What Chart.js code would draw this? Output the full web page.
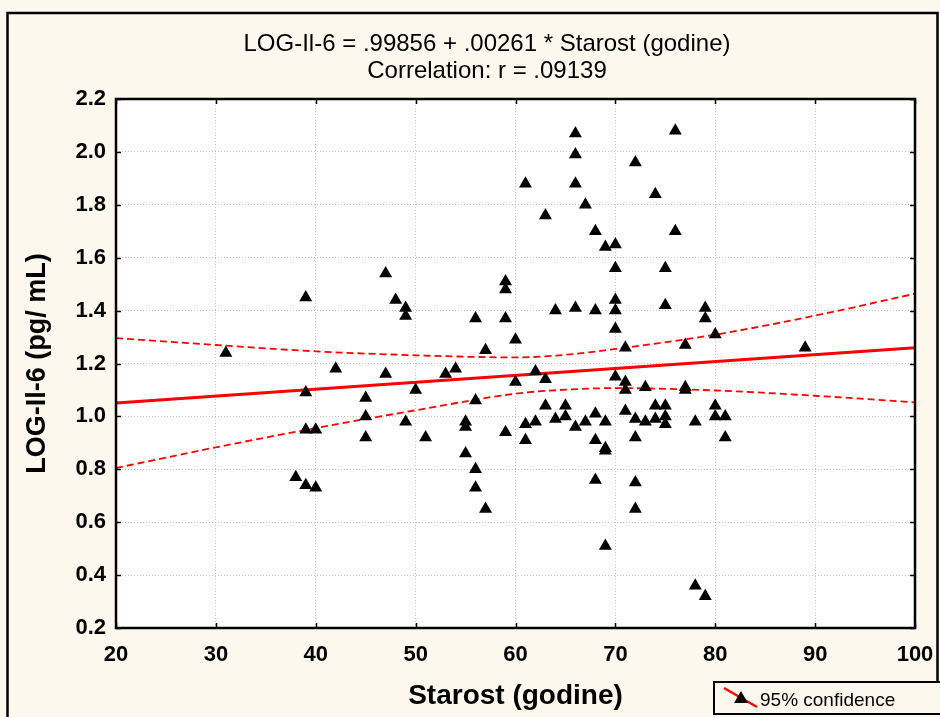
<!DOCTYPE html>
<html>
<head>
<meta charset="utf-8">
<title>LOG-Il-6 vs Starost</title>
<script src="https://cdn.jsdelivr.net/npm/chart.js@4.4.1/dist/chart.umd.min.js"></script>
<style>
  html, body { margin: 0; padding: 0; background: #fdf8ee; }
  #wrap { width: 940px; height: 717px; }
</style>
</head>
<body>
<div id="wrap"><canvas id="myChart" width="940" height="717"></canvas></div>
<script>
// age (godine) and LOG-Il-6 value for each patient
var ages = [
  31, 38, 39, 39, 39, 39, 40, 40, 42, 45, 45, 45,
  47, 47, 48, 49, 49, 49, 50, 51, 53, 54,
  55, 55, 55, 56, 56, 56, 56, 57, 57,
  59, 59, 59, 59, 60, 60, 61, 61, 61, 62, 62,
  63, 63, 63, 64, 64, 65, 65,
  66, 66, 66, 66, 66, 67, 67,
  68, 68, 68, 68, 68, 69, 69, 69, 69, 69,
  70, 70, 70, 70, 70, 70, 71, 71, 71, 71,
  72, 72, 72, 72, 72, 73, 73, 74, 74, 74,
  75, 75, 75, 75, 75, 76, 76, 77, 77, 77,
  78, 78, 79, 79, 79, 80, 80, 80, 81, 81, 89
];
var logIl6 = [
  1.24, 0.77, 1.45, 1.09, 0.95, 0.74, 0.95, 0.73, 1.18, 1.07, 1.00, 0.92,
  1.54, 1.16, 1.44, 1.41, 1.38, 0.98, 1.10, 0.92, 1.16, 1.18,
  0.98, 0.96, 0.86, 1.37, 1.06, 0.80, 0.73, 1.25, 0.65,
  1.51, 1.48, 1.37, 0.94, 1.29, 1.13, 1.88, 0.97, 0.91, 1.17, 0.98,
  1.76, 1.14, 1.04, 1.40, 0.99, 1.04, 1.00,
  2.07, 1.99, 1.88, 1.41, 0.96, 1.80, 0.98,
  1.70, 1.40, 1.01, 0.91, 0.76, 1.64, 0.98, 0.88, 0.87, 0.51,
  1.65, 1.56, 1.44, 1.40, 1.33, 1.15, 1.26, 1.13, 1.10, 1.02,
  1.96, 0.99, 0.92, 0.75, 0.65, 1.11, 0.98, 1.84, 1.04, 0.99,
  1.56, 1.42, 1.04, 1.00, 0.97, 2.08, 1.70, 1.27, 1.11, 1.10,
  0.98, 0.36, 1.41, 1.37, 0.32, 1.31, 1.04, 1.00, 1.00, 0.92, 1.26
];

// regression line and 95% confidence band
var fitX = [20, 100];
var fitY = [1.051, 1.260];
var bandX = [20, 30, 40, 50, 60, 65, 70, 80, 90, 100];
var bandUpper = [1.296, 1.270, 1.246, 1.231, 1.223, 1.233, 1.255, 1.309, 1.381, 1.464];
var bandLower = [0.805, 0.883, 0.956, 1.023, 1.086, 1.101, 1.107, 1.098, 1.078, 1.053];

var xTicks = [20, 30, 40, 50, 60, 70, 80, 90, 100];
var yTicks = ["0.2", "0.4", "0.6", "0.8", "1.0", "1.2", "1.4", "1.6", "1.8", "2.0", "2.2"];

var titleLines = [
  "LOG-Il-6 = .99856 + .00261 * Starost (godine)",
  "Correlation: r = .09139"
];
var xTitle = "Starost (godine)";
var yTitle = "LOG-Il-6 (pg/ mL)";
var legendText = "95% confidence";

function pairs(xs, ys) {
  return xs.map(function (x, i) { return { x: x, y: ys[i] }; });
}

function triangle(ctx, x, y, r) {
  ctx.beginPath();
  ctx.moveTo(x, y - r);
  ctx.lineTo(x + r * 0.866, y + r * 0.5);
  ctx.lineTo(x - r * 0.866, y + r * 0.5);
  ctx.closePath();
  ctx.fill();
}

var framePlugin = {
  id: "frame",
  beforeDraw: function (chart) {
    var ctx = chart.ctx, a = chart.chartArea;
    ctx.save();
    ctx.fillStyle = "#fdf8ee";
    ctx.fillRect(0, 0, chart.width, chart.height);
    ctx.strokeStyle = "#000";
    ctx.lineWidth = 2.5;
    ctx.strokeRect(7.5, 13, 930, 740);
    ctx.fillStyle = "#fff";
    ctx.fillRect(a.left, a.top, a.right - a.left, a.bottom - a.top);
    ctx.fillStyle = "#000";
    ctx.font = "24px 'Liberation Sans', Arial, sans-serif";
    ctx.textAlign = "center";
    ctx.textBaseline = "alphabetic";
    ctx.fillText(titleLines[0], 487, 51);
    ctx.fillText(titleLines[1], 487, 78);
    ctx.restore();
  },
  afterDraw: function (chart) {
    var ctx = chart.ctx, a = chart.chartArea;
    var xs = chart.scales.x, ys = chart.scales.y;
    ctx.save();
    ctx.strokeStyle = "#000";
    ctx.lineWidth = 1.5;
    ctx.beginPath();
    xTicks.forEach(function (v) {
      var px = Math.round(xs.getPixelForValue(v)) + 0.5;
      ctx.moveTo(px, a.top); ctx.lineTo(px, a.top + 5);
      ctx.moveTo(px, a.bottom); ctx.lineTo(px, a.bottom - 5);
    });
    yTicks.forEach(function (v) {
      var py = Math.round(ys.getPixelForValue(parseFloat(v))) + 0.5;
      ctx.moveTo(a.left, py); ctx.lineTo(a.left + 5, py);
      ctx.moveTo(a.right, py); ctx.lineTo(a.right - 5, py);
    });
    ctx.stroke();
    ctx.lineWidth = 2.5;
    ctx.strokeRect(a.left, a.top, a.right - a.left, a.bottom - a.top);

    // legend box
    ctx.fillStyle = "#fdf8ee";
    ctx.fillRect(714, 682, 240, 40);
    ctx.lineWidth = 2;
    ctx.strokeRect(714, 682, 240, 32);
    ctx.strokeStyle = "#ff0000";
    ctx.lineWidth = 2.5;
    ctx.beginPath();
    ctx.moveTo(724, 688);
    ctx.lineTo(757, 707);
    ctx.stroke();
    ctx.fillStyle = "#000";
    triangle(ctx, 741, 699, 8);
    ctx.font = "19px 'Liberation Sans', Arial, sans-serif";
    ctx.textAlign = "left";
    ctx.textBaseline = "alphabetic";
    ctx.fillText(legendText, 760, 706);
    ctx.restore();
  }
};

document.addEventListener("DOMContentLoaded", function () {
  const ctx = document.getElementById("myChart");
  Chart.defaults.font.family = "'Liberation Sans', Arial, sans-serif";
  Chart.defaults.color = "#000";

  new Chart(ctx, {
    type: "scatter",
    data: {
      datasets: [
        {
          label: "LOG-Il-6",
          data: pairs(ages, logIl6),
          pointStyle: "triangle",
          pointRadius: 7.5,
          pointHoverRadius: 7.5,
          backgroundColor: "#000",
          borderColor: "#000",
          borderWidth: 0,
          order: 0,
        },
        {
          label: "fit",
          data: pairs(fitX, fitY),
          showLine: true,
          pointRadius: 0,
          borderColor: "#ff0000",
          borderWidth: 3,
          order: 1,
        },
        {
          label: "upper",
          data: pairs(bandX, bandUpper),
          showLine: true,
          pointRadius: 0,
          borderColor: "#ff0000",
          borderWidth: 1.8,
          borderDash: [7, 4],
          cubicInterpolationMode: "monotone",
          order: 2,
        },
        {
          label: "lower",
          data: pairs(bandX, bandLower),
          showLine: true,
          pointRadius: 0,
          borderColor: "#ff0000",
          borderWidth: 1.8,
          borderDash: [7, 4],
          cubicInterpolationMode: "monotone",
          order: 3,
        },
      ],
    },
    options: {
      responsive: false,
      animation: false,
      devicePixelRatio: 1,
      layout: { padding: { top: 99, left: 0, right: 25, bottom: 0 } },
      plugins: {
        legend: { display: false },
        tooltip: { enabled: false },
        title: { display: false },
      },
      scales: {
        x: {
          type: "linear",
          min: 20,
          max: 100,
          afterBuildTicks: function (s) {
            s.ticks = xTicks.map(function (v) { return { value: v }; });
          },
          afterFit: function (s) {
            s.height = 89;
            s.paddingLeft = 0;
            s.paddingRight = 0;
          },
          ticks: {
            padding: 14,
            font: { size: 22, weight: "bold" },
            callback: function (v) { return String(v); },
          },
          grid: { color: "#c4c4c4", lineWidth: 1, drawTicks: false },
          border: { display: false, dash: [1, 2] },
          title: {
            display: true,
            text: xTitle,
            font: { size: 28, weight: "bold" },
            padding: { top: 0, bottom: 4 },
          },
        },
        y: {
          type: "linear",
          min: 0.2,
          max: 2.2,
          afterBuildTicks: function (s) {
            s.ticks = yTicks.map(function (v) { return { value: parseFloat(v) }; });
          },
          afterFit: function (s) { s.width = 116; },
          ticks: {
            padding: 10,
            font: { size: 22, weight: "bold" },
            callback: function (v) { return v.toFixed(1); },
          },
          grid: { color: "#c4c4c4", lineWidth: 1, drawTicks: false },
          border: { display: false, dash: [1, 2] },
          title: {
            display: true,
            text: yTitle,
            font: { size: 27, weight: "bold" },
            padding: { top: 21, bottom: 0 },
          },
        },
      },
    },
    plugins: [framePlugin],
  });
});
</script>
</body>
</html>
